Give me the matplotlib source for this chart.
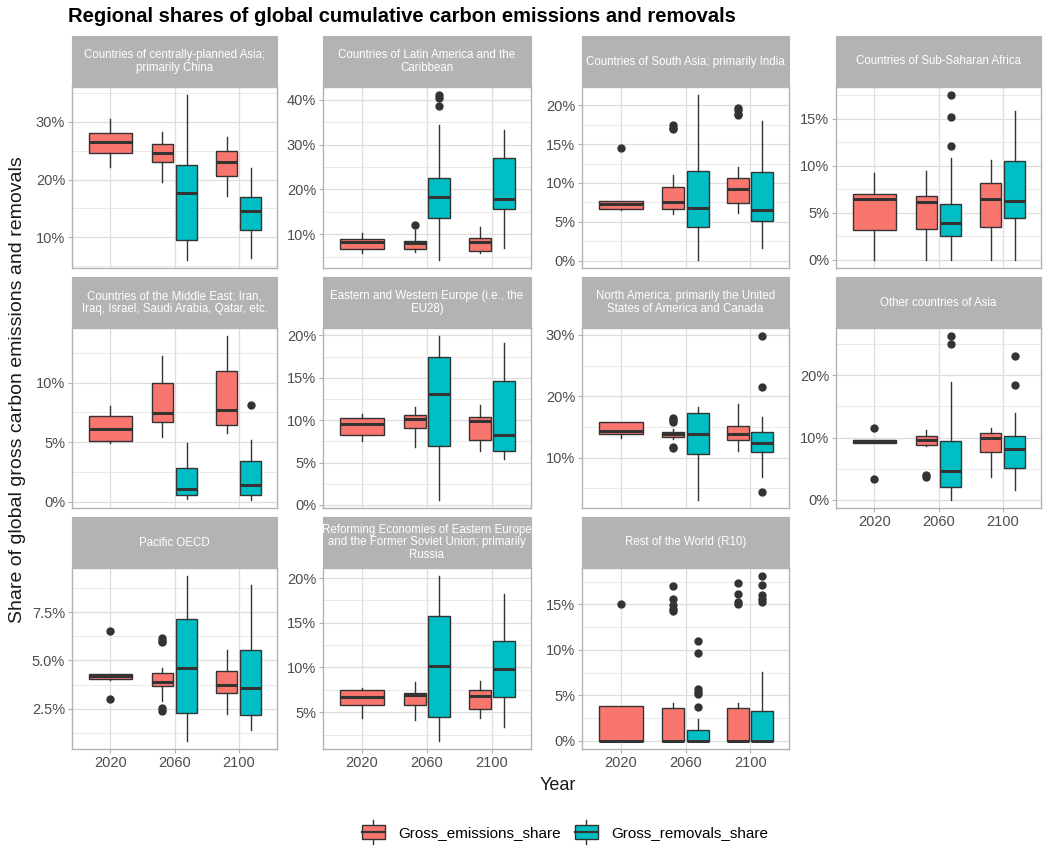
import matplotlib
matplotlib.use("Agg")
import matplotlib.pyplot as plt
from matplotlib.patches import Rectangle, Patch
from matplotlib.lines import Line2D
from matplotlib.legend_handler import HandlerBase

plt.rcParams['font.family'] = ['Liberation Sans', 'DejaVu Sans']

# ---------------------------------------------------------------- data
regions = [
    "Countries of centrally-planned Asia;\nprimarily China",
    "Countries of Latin America and the\nCaribbean",
    "Countries of South Asia; primarily India",
    "Countries of Sub-Saharan Africa",
    "Countries of the Middle East; Iran,\nIraq, Israel, Saudi Arabia, Qatar, etc.",
    "Eastern and Western Europe (i.e., the\nEU28)",
    "North America; primarily the United\nStates of America and Canada",
    "Other countries of Asia",
    "Pacific OECD",
    "Reforming Economies of Eastern Europe\nand the Former Soviet Union; primarily\nRussia",
    "Rest of the World (R10)",
]
years = ["2020", "2060", "2100"]
series = ["Gross_emissions_share", "Gross_removals_share"]

# Gross emissions share (%), per region: [2020, 2060, 2100]
emis_whislo = [[22.2, 19.6, 17.2], [5.8, 6.0, 5.7], [6.5, 6.0, 6.1], [0.0, 0.0, 0.0],
               [4.9, 5.4, 5.8], [7.5, 6.85, 6.4], [13.2, 13.1, 11.0], [9.2, 8.6, 3.7],
               [4.0, 2.9, 2.22], [4.3, 4.1, 4.3], [0.0, 0.0, 0.0]]
emis_q1 = [[24.6, 23.0, 20.6], [6.8, 6.6, 6.2], [6.7, 6.7, 7.4], [3.2, 3.3, 3.5],
           [5.1, 6.7, 6.4], [8.2, 9.05, 7.7], [13.8, 13.4, 12.8], [9.2, 8.8, 7.7],
           [4.03, 3.67, 3.33], [5.8, 5.8, 5.4], [0.0, 0.0, 0.0]]
emis_med = [[26.5, 24.6, 23.1], [8.3, 8.1, 8.2], [7.3, 7.6, 9.2], [6.5, 6.1, 6.5],
            [6.1, 7.45, 7.7], [9.5, 10.1, 9.9], [14.3, 13.9, 13.9], [9.4, 9.6, 9.9],
            [4.17, 3.9, 3.74], [6.7, 6.9, 6.85], [0.0, 0.0, 0.0]]
emis_q3 = [[28.0, 26.1, 24.9], [9.0, 8.5, 9.1], [7.7, 9.5, 10.6], [6.95, 6.8, 8.2],
           [7.2, 10.0, 11.0], [10.2, 10.6, 10.4], [15.8, 14.2, 15.2], [9.6, 10.25, 10.8],
           [4.28, 4.33, 4.47], [7.45, 7.1, 7.45], [3.8, 3.6, 3.6]]
emis_whishi = [[30.4, 28.3, 27.3], [10.3, 10.9, 11.6], [7.7, 11.0, 12.1], [9.2, 9.4, 10.6],
               [8.0, 12.2, 13.9], [10.75, 11.5, 11.8], [15.8, 14.6, 18.7], [9.6, 11.2, 11.5],
               [4.3, 4.59, 5.53], [7.75, 8.4, 8.5], [3.8, 4.2, 4.15]]
emis_outliers = [
    [[], [], []],
    [[], [12.0], []],
    [[14.5], [16.9, 17.1, 17.4], [18.7, 18.9, 19.4, 19.7]],
    [[], [], []],
    [[], [], []],
    [[], [], []],
    [[], [11.5, 11.7, 15.8, 16.2, 16.5], []],
    [[3.4, 11.5], [3.6, 4.0], []],
    [[3.0, 6.52], [2.4, 2.55, 5.95, 6.03, 6.15], []],
    [[], [], []],
    [[15.0], [14.25, 14.5, 14.9, 15.6, 17.0], [15.0, 15.3, 16.1, 17.4]],
]

# Gross removals share (%), per region: [2060, 2100]
rem_whislo = [[6.1, 6.4], [4.3, 7.0], [0.1, 1.6], [0.0, 0.0], [0.25, 0.15], [0.6, 5.4],
              [3.1, 6.8], [0.0, 1.6], [0.84, 1.4], [1.8, 3.35], [0.0, 0.0]]
rem_q1 = [[9.5, 11.2], [13.7, 15.7], [4.3, 5.1], [2.55, 4.4], [0.55, 0.55], [6.9, 6.3],
          [10.5, 10.9], [2.0, 5.1], [2.26, 2.19], [4.45, 6.7], [0.0, 0.0]]
rem_med = [[17.7, 14.5], [18.4, 17.8], [6.8, 6.5], [3.9, 6.2], [1.05, 1.4], [13.1, 8.25],
           [13.8, 12.4], [4.7, 8.2], [4.62, 3.57], [10.2, 9.8], [0.0, 0.0]]
rem_q3 = [[22.6, 16.9], [22.5, 27.1], [11.6, 11.4], [5.9, 10.5], [2.8, 3.4], [17.4, 14.6],
          [17.2, 14.2], [9.45, 10.2], [7.14, 5.52], [15.7, 12.95], [1.2, 3.3]]
rem_whishi = [[34.6, 22.0], [34.4, 33.2], [21.3, 18.0], [10.8, 15.8], [4.9, 5.15], [19.9, 19.05],
              [18.3, 16.6], [18.9, 13.9], [9.36, 8.93], [20.2, 18.2], [2.45, 7.6]]
rem_outliers = [
    [[], []],
    [[38.7, 40.4, 41.0], []],
    [[], []],
    [[12.1, 15.2, 17.5], []],
    [[], [8.1]],
    [[], []],
    [[], [4.4, 21.5, 29.8]],
    [[25.1, 26.3], [18.5, 23.1]],
    [[], []],
    [[], []],
    [[3.7, 5.2, 5.4, 5.7, 9.7, 11.0], [15.3, 15.6, 16.0, 17.1, 18.1]],
]

# y-axis breaks and their labels for each panel
y_breaks = [[10, 20, 30], [10, 20, 30, 40], [0, 5, 10, 15, 20], [0, 5, 10, 15], [0, 5, 10],
            [0, 5, 10, 15, 20], [10, 20, 30], [0, 10, 20], [2.5, 5.0, 7.5], [5, 10, 15, 20],
            [0, 5, 10, 15]]
y_tick_labels = [["10%", "20%", "30%"], ["10%", "20%", "30%", "40%"],
                 ["0%", "5%", "10%", "15%", "20%"], ["0%", "5%", "10%", "15%"],
                 ["0%", "5%", "10%"], ["0%", "5%", "10%", "15%", "20%"],
                 ["10%", "20%", "30%"], ["0%", "10%", "20%"], ["2.5%", "5.0%", "7.5%"],
                 ["5%", "10%", "15%", "20%"], ["0%", "5%", "10%", "15%"]]

# ---------------------------------------------------------------- style
EMIS_COLOR = "#F8766D"
REM_COLOR = "#00BFC4"
EDGE = "#333333"
STRIP = "#B3B3B3"
GRID = "#DEDEDE"

W, H = 1045, 850
fig = plt.figure(figsize=(W / 100, H / 100), dpi=100)
fig.patch.set_facecolor("white")

col_x = [(72, 277), (323, 531), (582, 789), (836, 1041)]
row_y = [(36, 87, 268), (277, 328, 508), (517, 568, 749)]  # strip top, panel top, panel bottom
show_x = {7, 8, 9, 10}


def px_axes(x0, x1, ytop, ybot):
    return fig.add_axes([x0 / W, 1 - ybot / H, (x1 - x0) / W, (ybot - ytop) / H])


def stat(lo, q1, med, q3, hi, fl):
    return dict(whislo=lo, q1=q1, med=med, q3=q3, whishi=hi, fliers=fl)


box_kw = dict(patch_artist=True, showcaps=False, manage_ticks=False,
              boxprops=dict(edgecolor=EDGE, linewidth=1.0),
              medianprops=dict(color=EDGE, linewidth=2.2, solid_capstyle="butt"),
              whiskerprops=dict(color=EDGE, linewidth=1.0),
              flierprops=dict(marker="o", markerfacecolor=EDGE, markeredgecolor=EDGE,
                              markersize=5, linestyle="none"))

dodge = 0.1875
single_w = 0.675
pair_w = 0.3375

for i, name in enumerate(regions):
    r, c = divmod(i, 4)
    x0, x1 = col_x[c]
    s_top, p_top, p_bot = row_y[r]

    # facet strip
    sax = px_axes(x0, x1, s_top, p_top)
    sax.set_facecolor(STRIP)
    sax.set_xticks([])
    sax.set_yticks([])
    for sp in sax.spines.values():
        sp.set_color(STRIP)
    sax.text(0.5, 0.5, name, ha="center", va="center", color="white",
             fontsize=8.3, linespacing=1.1, transform=sax.transAxes)

    ax = px_axes(x0, x1, p_top, p_bot)
    ax.set_axisbelow(True)

    # emissions boxes (2020 stands alone, 2060/2100 dodged left)
    e_stats = [stat(emis_whislo[i][k], emis_q1[i][k], emis_med[i][k], emis_q3[i][k],
                    emis_whishi[i][k], emis_outliers[i][k]) for k in range(3)]
    ax.bxp(e_stats[:1], positions=[1], widths=single_w, **box_kw)
    ax.bxp(e_stats[1:], positions=[2 - dodge, 3 - dodge], widths=pair_w, **box_kw)
    r_stats = [stat(rem_whislo[i][k], rem_q1[i][k], rem_med[i][k], rem_q3[i][k],
                    rem_whishi[i][k], rem_outliers[i][k]) for k in range(2)]
    ax.bxp(r_stats, positions=[2 + dodge, 3 + dodge], widths=pair_w, **box_kw)
    patches = ax.patches
    for p in patches[:3]:
        p.set_facecolor(EMIS_COLOR)
    for p in patches[3:5]:
        p.set_facecolor(REM_COLOR)

    # y range: data extent plus 5% on each side
    vals = (emis_whislo[i] + emis_whishi[i] + rem_whislo[i] + rem_whishi[i]
            + [v for fl in emis_outliers[i] for v in fl]
            + [v for fl in rem_outliers[i] for v in fl])
    lo, hi = min(vals), max(vals)
    pad = (hi - lo) * 0.05
    ax.set_ylim(lo - pad, hi + pad)
    ax.set_xlim(0.4, 3.6)

    brk = y_breaks[i]
    step = brk[1] - brk[0]
    minors = [brk[0] - step / 2] + [b + step / 2 for b in brk]
    minors = [m for m in minors if lo - pad <= m <= hi + pad]
    ax.set_yticks(brk)
    ax.set_yticklabels(y_tick_labels[i])
    ax.set_yticks(minors, minor=True)
    ax.set_xticks([1, 2, 3])
    ax.grid(which="major", color=GRID, linewidth=0.9)
    ax.grid(which="minor", axis="y", color="#E6E6E6", linewidth=0.6)
    ax.tick_params(which="minor", length=0)
    ax.tick_params(which="major", color=STRIP, length=3, width=0.8,
                   labelcolor="#4D4D4D", labelsize=10.5, pad=2)
    if i in show_x:
        ax.set_xticklabels(years)
    else:
        ax.set_xticklabels([])
        ax.tick_params(axis="x", length=0)
    for sp in ax.spines.values():
        sp.set_color(STRIP)
        sp.set_linewidth(1.0)

# ---------------------------------------------------------------- titles
fig.text(68 / W, 1 - 17 / H, "Regional shares of global cumulative carbon emissions and removals",
         fontsize=14.5, fontweight="bold", ha="left", va="center")
fig.text(18 / W, 1 - 390 / H, "Share of global gross carbon emissions and removals",
         rotation=90, fontsize=14, ha="center", va="center", color="#1A1A1A")
fig.text(558 / W, 1 - 786 / H, "Year", fontsize=13, ha="center", va="center",
         color="#1A1A1A")


# ---------------------------------------------------------------- legend
class BoxKeyHandler(HandlerBase):
    def create_artists(self, legend, orig_handle, xdescent, ydescent, width, height,
                       fontsize, trans):
        fc = orig_handle.get_facecolor()
        x0 = -xdescent
        y0 = -ydescent
        cx = x0 + width / 2
        bh = height * 0.8
        by = y0 + (height - bh) / 2
        whisk = Line2D([cx, cx], [y0 - height * 0.2, y0 + height * 1.2], color=EDGE,
                       linewidth=1.0, transform=trans)
        box = Rectangle((x0, by), width, bh, facecolor=fc, edgecolor=EDGE,
                        linewidth=1.0, transform=trans)
        med = Line2D([x0, x0 + width], [by + bh / 2, by + bh / 2], color=EDGE,
                     linewidth=1.6, transform=trans)
        return [whisk, box, med]


handles = [Patch(facecolor=EMIS_COLOR), Patch(facecolor=REM_COLOR)]
fig.legend(handles, series, loc="center", bbox_to_anchor=(565 / W, 1 - 832 / H),
           ncol=2, frameon=False, fontsize=11, handlelength=1.5, handleheight=1.3,
           handletextpad=0.9, columnspacing=0.9,
           handler_map={Patch: BoxKeyHandler()})

fig.savefig("out.png", dpi=100, facecolor="white")
